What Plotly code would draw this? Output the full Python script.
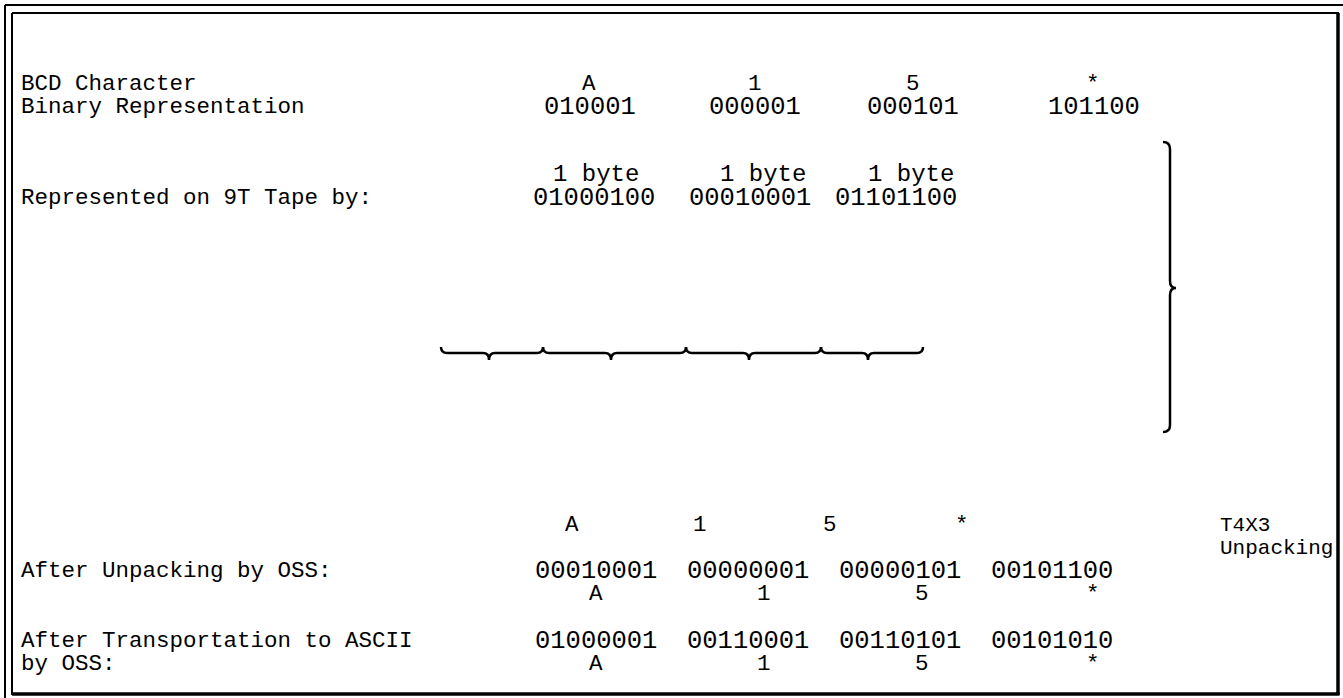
import plotly.graph_objects as go

W, H = 1343, 698

# ---- content (data) ----
row_labels = ["BCD Character", "Binary Representation", "Represented on 9T Tape by:",
              "After Unpacking by OSS:", "After Transportation to ASCII", "by OSS:"]
bcd_chars = ["A", "1", "5", "*"]
bcd_binary = ["010001", "000001", "000101", "101100"]
byte_labels = ["1 byte", "1 byte", "1 byte"]
tape_bytes = ["01000100", "00010001", "01101100"]
unpacked_bytes = ["00010001", "00000001", "00000101", "00101100"]
ascii_bytes = ["01000001", "00110001", "00110101", "00101010"]
unpack_method = ["T4X3", "Unpacking"]

# ---- layout (positions) ----
label_x = 20
label_y = [84, 107, 198, 571, 641, 664]
bcd_char_x = [589, 755, 913, 1093]
bcd_bin_x = [590, 755, 913, 1094]
byte_label_x = [596, 763, 911]
tape_x = [594, 750, 896]
top_char_x = [572, 700, 830, 962]
unpack_x = [596, 748, 900, 1052]
char_x = [596, 764, 922, 1093]
method_x = 1219

FAMILY = "Courier New, Liberation Mono, monospace"
LABEL_FONT = dict(family=FAMILY, size=22.5, color="black")
DIGIT_FONT = dict(family=FAMILY, size=25.5, color="black")
BYTE_FONT = dict(family=FAMILY, size=24, color="black")
METHOD_FONT = dict(family=FAMILY, size=21, color="black")

fig = go.Figure()
ann = []

def add(text, x, y, anchor="center", font=LABEL_FONT):
    ann.append(dict(text=text, x=x, y=y, xref="x", yref="y", showarrow=False,
                    xanchor=anchor, yanchor="middle", font=font, borderpad=0))

for t, y in zip(row_labels, label_y):
    add(t, label_x, y, "left")
for t, x in zip(bcd_chars, bcd_char_x):
    add(t, x, 84)
for t, x in zip(bcd_binary, bcd_bin_x):
    add(t, x, 107, font=DIGIT_FONT)
for t, x in zip(byte_labels, byte_label_x):
    add(t, x, 174, font=BYTE_FONT)
for t, x in zip(tape_bytes, tape_x):
    add(t, x, 198, font=DIGIT_FONT)
for t, x in zip(bcd_chars, top_char_x):
    add(t, x, 525)
for t, x in zip(unpacked_bytes, unpack_x):
    add(t, x, 571, font=DIGIT_FONT)
for t, x in zip(bcd_chars, char_x):
    add(t, x, 594)
for t, x in zip(ascii_bytes, unpack_x):
    add(t, x, 641, font=DIGIT_FONT)
for t, x in zip(bcd_chars, char_x):
    add(t, x, 664)
add(unpack_method[0], method_x, 525, "left", METHOD_FONT)
add(unpack_method[1], method_x, 548, "left", METHOD_FONT)

# ---- braces ----
def hbrace(x0, x1, tip, ytop=347, ymid=353, ytip=360, r=6):
    return (f"M {x0},{ytop} Q {x0},{ymid} {x0+r},{ymid} L {tip-r},{ymid} "
            f"Q {tip},{ymid} {tip},{ytip} Q {tip},{ymid} {tip+r},{ymid} "
            f"L {x1-r},{ymid} Q {x1},{ymid} {x1},{ytop}")

brace_edges = [441, 543, 686, 821, 923]
brace_tips = [489, 611, 749, 868]
shapes = []
for i, tip in enumerate(brace_tips):
    shapes.append(dict(type="path", path=hbrace(brace_edges[i], brace_edges[i+1], tip),
                       xref="x", yref="y", line=dict(color="black", width=2.5)))

vx, vt, vb, vm, hook = 1170, 142, 432, 288, 7
vpath = (f"M {vx-hook},{vt} Q {vx},{vt} {vx},{vt+hook} L {vx},{vm-7} "
         f"Q {vx},{vm} {vx+6},{vm} Q {vx},{vm} {vx},{vm+7} L {vx},{vb-hook} "
         f"Q {vx},{vb} {vx-hook},{vb}")
shapes.append(dict(type="path", path=vpath, xref="x", yref="y",
                   line=dict(color="black", width=2.5)))

# ---- frame ----
def line(x0, y0, x1, y1, w):
    return dict(type="line", x0=x0, y0=y0, x1=x1, y1=y1, xref="x", yref="y",
                line=dict(color="black", width=w))

shapes += [
    line(5, 5, 1343, 5, 2),
    line(5, 5, 5, 698, 2),
    line(12, 13, 1339, 13, 2),
    line(12, 13, 12, 695, 2),
    line(1338, 13, 1338, 695, 3.5),
    line(12, 694, 1339.5, 694, 3.5),
]

fig.update_layout(
    width=W, height=H, margin=dict(l=0, r=0, t=0, b=0),
    paper_bgcolor="white", plot_bgcolor="white",
    xaxis=dict(range=[0, W], visible=False, fixedrange=True),
    yaxis=dict(range=[H, 0], visible=False, fixedrange=True),
    annotations=ann, shapes=shapes, showlegend=False,
)
fig.write_html("out.html", config={"displayModeBar": False},
               post_script="document.body.style.margin='0px';document.body.style.overflow='hidden';")
